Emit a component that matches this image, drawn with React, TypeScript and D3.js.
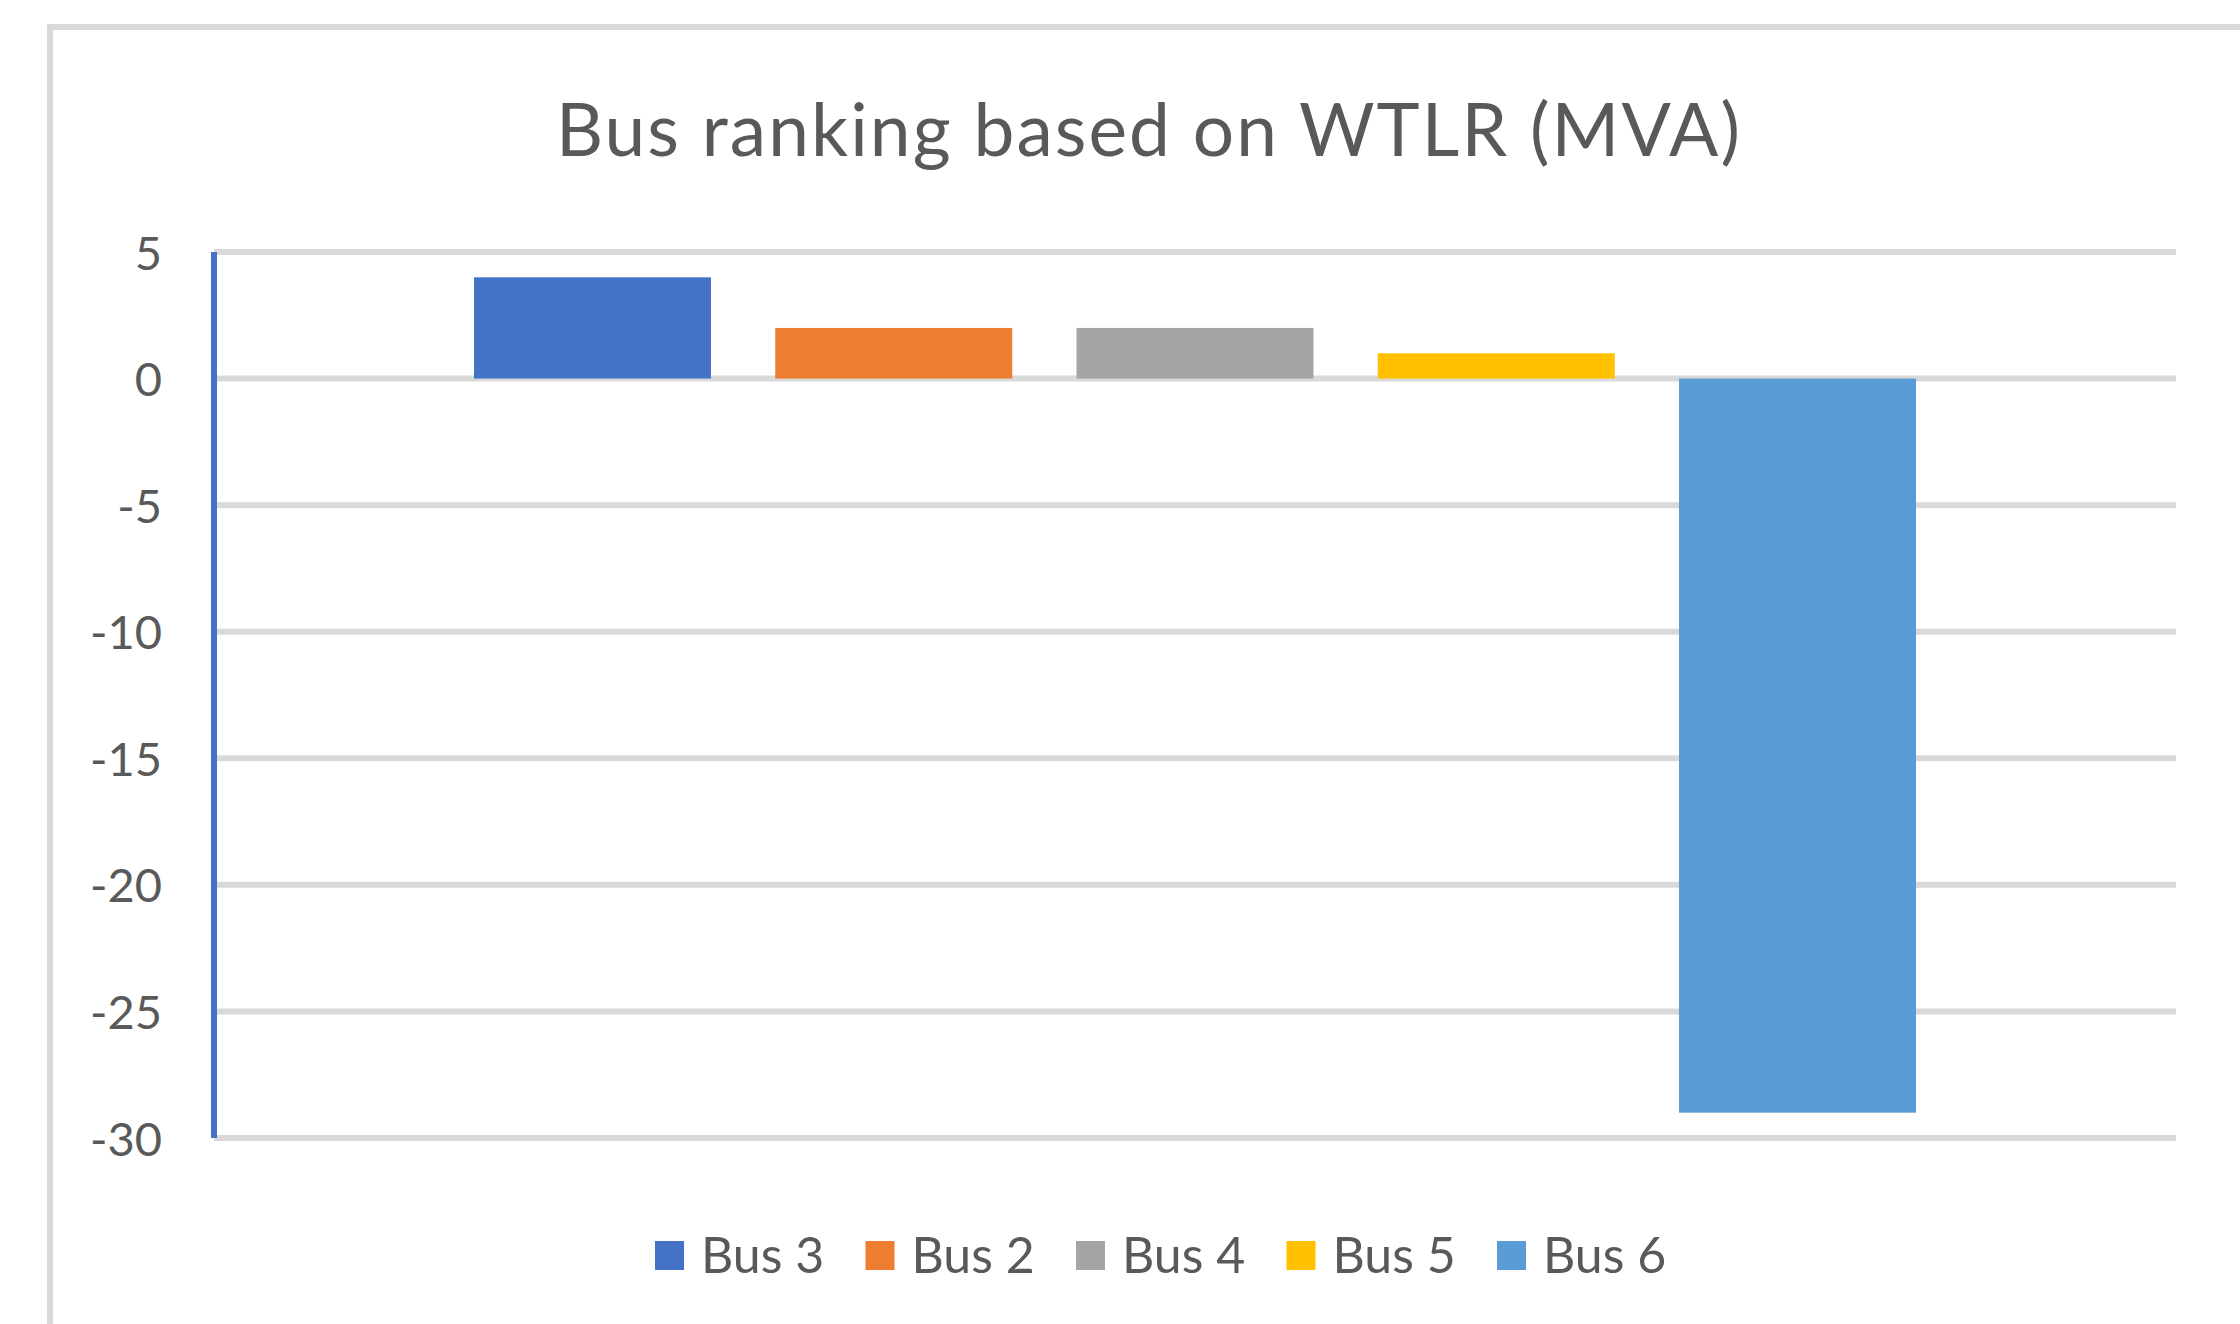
import React from "react";
import * as d3 from "d3";

const seriesNames = ["Bus 3", "Bus 2", "Bus 4", "Bus 5", "Bus 6"];
const seriesValues = [4, 2, 2, 1, -29];
const seriesColors = ["#4472c4", "#ed7d31", "#a5a5a5", "#ffc000", "#5b9bd5"];
const yTicks = [5, 0, -5, -10, -15, -20, -25, -30];
const titleText = "Bus ranking based on WTLR (MVA)";

const W = 2240;
const H = 1324;
const plotLeft = 214;
const plotRight = 2176;
const plotTop = 252;
const plotBottom = 1138;
const font = "Lato, 'Open Sans', sans-serif";
const textColor = "#595959";

export default function App() {
  const y = d3.scaleLinear().domain([-30, 5]).range([plotBottom, plotTop]);
  const x = d3
    .scaleBand<string>()
    .domain(seriesNames)
    .range([plotLeft, plotRight])
    .paddingInner(0.2133)
    .paddingOuter(0.863);

  const legendStart = 655;
  const legendStep = 210.5;

  return (
    <svg
      width={W}
      height={H}
      style={{ position: "absolute", left: 0, top: 0, background: "#fff" }}
    >
      <rect x={0} y={0} width={W} height={H} fill="#fff" />
      <rect
        x={50}
        y={27}
        width={2196}
        height={1400}
        fill="none"
        stroke="#d9d9d9"
        strokeWidth={6}
      />
      <text
        x={556}
        y={156}
        textLength={1184}
        lengthAdjust="spacing"
        fontFamily={font}
        fontSize={73}
        fill={textColor}
      >
        {titleText}
      </text>
      {yTicks.map((t) => (
        <g key={t}>
          <line
            x1={plotLeft}
            x2={plotRight}
            y1={y(t)}
            y2={y(t)}
            stroke="#d9d9d9"
            strokeWidth={6}
          />
          <text
            x={162}
            y={y(t) + 17.5}
            textAnchor="end"
            fontFamily={font}
            fontSize={47}
            fill={textColor}
          >
            {t}
          </text>
        </g>
      ))}
      {seriesNames.map((s, i) => {
        const v = seriesValues[i];
        const y0 = y(0);
        const yv = y(v);
        return (
          <rect
            key={s}
            x={x(s)}
            width={x.bandwidth()}
            y={Math.min(y0, yv)}
            height={Math.abs(yv - y0)}
            fill={seriesColors[i]}
          />
        );
      })}
      <line
        x1={plotLeft}
        x2={plotLeft}
        y1={plotTop}
        y2={plotBottom}
        stroke="#4472c4"
        strokeWidth={6}
      />
      {seriesNames.map((s, i) => (
        <g key={"lg" + s} transform={`translate(${legendStart + i * legendStep},0)`}>
          <rect x={0} y={1241} width={29} height={29} fill={seriesColors[i]} />
          <text
            x={46}
            y={1273}
            fontFamily={font}
            fontSize={50}
            fill={textColor}
          >
            {s}
          </text>
        </g>
      ))}
    </svg>
  );
}
